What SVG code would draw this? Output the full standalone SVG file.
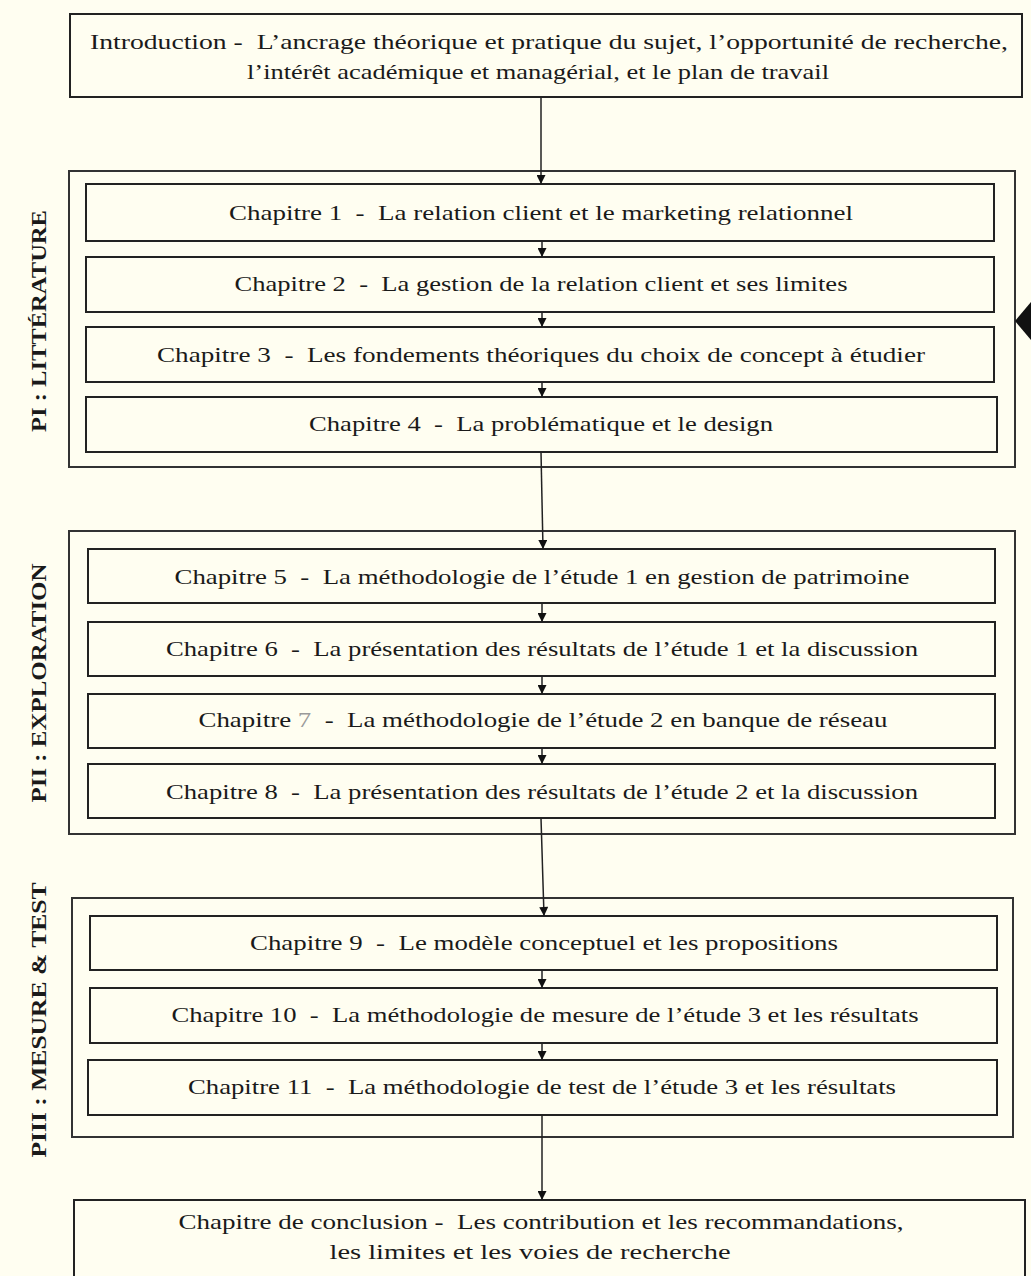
<svg xmlns="http://www.w3.org/2000/svg" width="1031" height="1276" viewBox="0 0 1031 1276">
<style>
.bg{fill:#FFFEF1}
.box{fill:#FFFEF1;stroke:#222;stroke-width:2}
.outer{fill:#FFFEF1;stroke:#333;stroke-width:2}
.t{font-family:"Liberation Serif",serif;font-size:21px;fill:#1a1a1a;text-anchor:middle;white-space:pre}
.lbl{font-family:"Liberation Serif",serif;font-size:20px;font-weight:bold;fill:#1a1a1a;text-anchor:middle;white-space:pre}
.c{stroke:#222;stroke-width:1.5;fill:none}
</style>
<defs>
<marker id="ah" viewBox="0 0 10 10" refX="10" refY="5" markerWidth="10" markerHeight="9" markerUnits="userSpaceOnUse" orient="auto">
<path d="M0,0 L10,5 L0,10 Z" fill="#111"/>
</marker>
</defs>
<rect class="bg" x="0" y="0" width="1031" height="1276"/>

<g id="intro">
<rect class="box" x="70" y="14" width="952" height="83"/>
<text class="t" x="549" y="49" textLength="918" lengthAdjust="spacingAndGlyphs">Introduction -  L’ancrage théorique et pratique du sujet, l’opportunité de recherche,</text>
<text class="t" x="538" y="79" textLength="582" lengthAdjust="spacingAndGlyphs">l’intérêt académique et managérial, et le plan de travail</text>
</g>

<g id="partI">
<rect class="outer" x="69" y="171" width="946" height="296"/>
<text class="lbl" transform="translate(46,321) rotate(-90)" textLength="222" lengthAdjust="spacingAndGlyphs">PI : LITTÉRATURE</text>
</g>
<g id="ch1"><rect class="box" x="86" y="184" width="908" height="57"/>
<text class="t" x="541" y="220" textLength="624" lengthAdjust="spacingAndGlyphs">Chapitre 1  -  La relation client et le marketing relationnel</text></g>
<g id="ch2"><rect class="box" x="86" y="257" width="908" height="55"/>
<text class="t" x="541" y="291" textLength="613" lengthAdjust="spacingAndGlyphs">Chapitre 2  -  La gestion de la relation client et ses limites</text></g>
<g id="ch3"><rect class="box" x="86" y="327" width="908" height="55"/>
<text class="t" x="541" y="362" textLength="768" lengthAdjust="spacingAndGlyphs">Chapitre 3  -  Les fondements théoriques du choix de concept à étudier</text></g>
<g id="ch4"><rect class="box" x="86" y="397" width="911" height="55"/>
<text class="t" x="541" y="431" textLength="464" lengthAdjust="spacingAndGlyphs">Chapitre 4  -  La problématique et le design</text></g>
<g id="pointer"><path d="M1015,321 L1031,302 L1031,340 Z" fill="#111"/></g>

<g id="partII">
<rect class="outer" x="69" y="531" width="946" height="303"/>
<text class="lbl" transform="translate(46,683) rotate(-90)" textLength="239" lengthAdjust="spacingAndGlyphs">PII : EXPLORATION</text>
</g>
<g id="ch5"><rect class="box" x="88" y="549" width="907" height="54"/>
<text class="t" x="542" y="584" textLength="735" lengthAdjust="spacingAndGlyphs">Chapitre 5  -  La méthodologie de l’étude 1 en gestion de patrimoine</text></g>
<g id="ch6"><rect class="box" x="88" y="622" width="907" height="54"/>
<text class="t" x="542" y="656" textLength="752" lengthAdjust="spacingAndGlyphs">Chapitre 6  -  La présentation des résultats de l’étude 1 et la discussion</text></g>
<g id="ch7"><rect class="box" x="88" y="694" width="907" height="54"/>
<text class="t" x="543" y="727" textLength="689" lengthAdjust="spacingAndGlyphs">Chapitre <tspan fill="#9a9a9a">7</tspan>  -  La méthodologie de l’étude 2 en banque de réseau</text></g>
<g id="ch8"><rect class="box" x="88" y="764" width="907" height="54"/>
<text class="t" x="542" y="799" textLength="752" lengthAdjust="spacingAndGlyphs">Chapitre 8  -  La présentation des résultats de l’étude 2 et la discussion</text></g>

<g id="partIII">
<rect class="outer" x="72" y="898" width="941" height="239"/>
<text class="lbl" transform="translate(46,1020) rotate(-90)" textLength="275" lengthAdjust="spacingAndGlyphs">PIII : MESURE &amp; TEST</text>
</g>
<g id="ch9"><rect class="box" x="90" y="916" width="907" height="54"/>
<text class="t" x="544" y="950" textLength="588" lengthAdjust="spacingAndGlyphs">Chapitre 9  -  Le modèle conceptuel et les propositions</text></g>
<g id="ch10"><rect class="box" x="90" y="988" width="907" height="55"/>
<text class="t" x="545" y="1022" textLength="747" lengthAdjust="spacingAndGlyphs">Chapitre 10  -  La méthodologie de mesure de l’étude 3 et les résultats</text></g>
<g id="ch11"><rect class="box" x="88" y="1060" width="909" height="55"/>
<text class="t" x="542" y="1094" textLength="708" lengthAdjust="spacingAndGlyphs">Chapitre 11  -  La méthodologie de test de l’étude 3 et les résultats</text></g>

<g id="conclusion">
<rect class="box" x="74" y="1200" width="951" height="90"/>
<text class="t" x="541" y="1229" textLength="725" lengthAdjust="spacingAndGlyphs">Chapitre de conclusion -  Les contribution et les recommandations,</text>
<text class="t" x="530" y="1259" textLength="401" lengthAdjust="spacingAndGlyphs">les limites et les voies de recherche</text>
</g>

<g id="connectors">
<line class="c" x1="541" y1="97" x2="541" y2="184" marker-end="url(#ah)"/>
<line class="c" x1="542" y1="241" x2="542" y2="257" marker-end="url(#ah)"/>
<line class="c" x1="542" y1="312" x2="542" y2="327" marker-end="url(#ah)"/>
<line class="c" x1="542" y1="382" x2="542" y2="397" marker-end="url(#ah)"/>
<line class="c" x1="541" y1="452" x2="543" y2="549" marker-end="url(#ah)"/>
<line class="c" x1="542" y1="603" x2="542" y2="622" marker-end="url(#ah)"/>
<line class="c" x1="542" y1="676" x2="542" y2="694" marker-end="url(#ah)"/>
<line class="c" x1="542" y1="748" x2="542" y2="764" marker-end="url(#ah)"/>
<line class="c" x1="541" y1="818" x2="544" y2="916" marker-end="url(#ah)"/>
<line class="c" x1="542" y1="970" x2="542" y2="988" marker-end="url(#ah)"/>
<line class="c" x1="542" y1="1043" x2="542" y2="1060" marker-end="url(#ah)"/>
<line class="c" x1="542" y1="1115" x2="542" y2="1200" marker-end="url(#ah)"/>
</g>
</svg>
